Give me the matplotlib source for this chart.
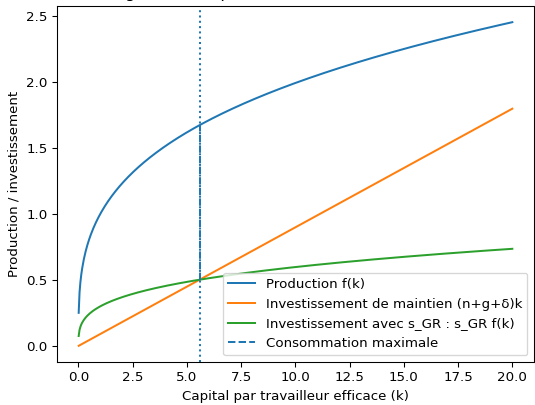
import numpy as np
import matplotlib
matplotlib.use("Agg")
import matplotlib.pyplot as plt

# parametres du modele
alpha = 0.3          # f(k) = k^alpha
s_gr = 0.3           # taux d'epargne de la regle d'or
ngd = 0.09           # n + g + delta
k_min, k_max = 0.01, 20

k = np.linspace(k_min, k_max, 500)
f_k = k ** alpha
maintien = ngd * k
invest = s_gr * f_k

# capital de la regle d'or
k_gr = (s_gr / ngd) ** (1 / (1 - alpha))

dpi = 96
fig, ax = plt.subplots(figsize=(535 / dpi, 405 / dpi), dpi=dpi)
fig.subplots_adjust(left=57/535, right=534/535, top=1-6/405, bottom=1-362/405)

ax.plot(k, f_k, label='Production f(k)')
ax.plot(k, maintien, label='Investissement de maintien (n+g+δ)k')
ax.plot(k, invest, label='Investissement avec s_GR : s_GR f(k)')
ax.axvline(k_gr, color='C0', linestyle=':')
ax.vlines(k_gr, s_gr * k_gr ** alpha, k_gr ** alpha, color='C0', linestyle='--',
          label='Consommation maximale')

ax.set_title("Règle d'or : capital et consommation maximale")
ax.set_xlabel('Capital par travailleur efficace (k)')
ax.set_ylabel('Production / investissement')
ax.legend(loc='lower right')

fig.savefig('out.png', dpi=dpi)
